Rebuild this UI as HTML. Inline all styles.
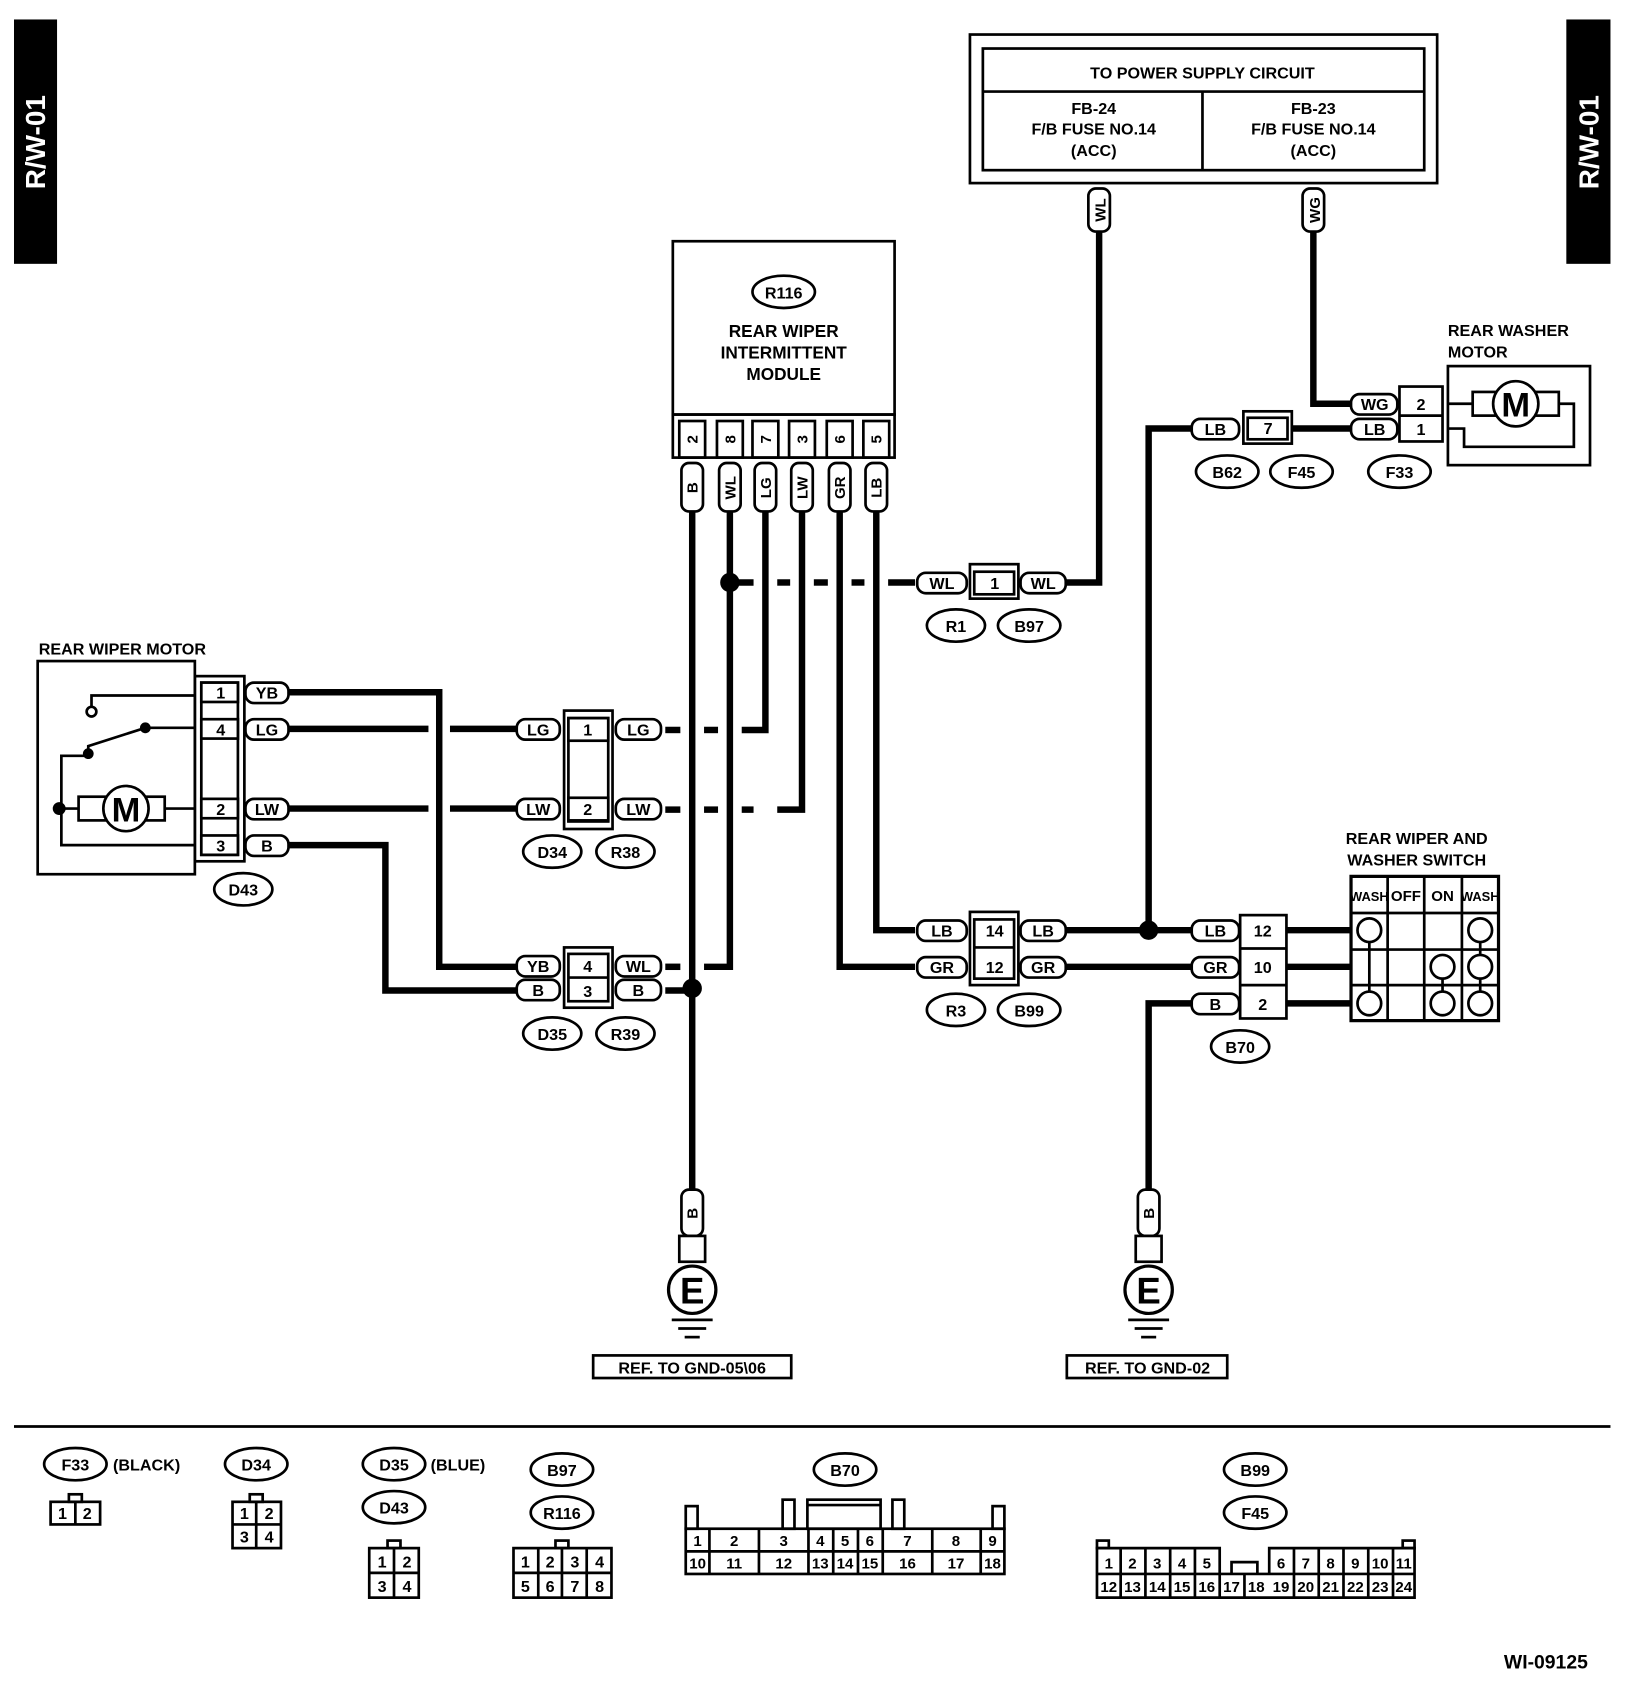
<!DOCTYPE html>
<html><head><meta charset="utf-8"><style>
html,body{margin:0;padding:0;background:#fff}
svg{display:block}
text{font-family:"Liberation Sans",Arial,sans-serif;font-weight:bold;fill:#000}
.t{font-size:15px;text-anchor:middle}
.w{stroke:#000;stroke-width:6;fill:none}
.l{stroke:#000;stroke-width:2.5;fill:none}
.b{stroke:#000;stroke-width:2.5;fill:#fff}
.c{font-size:14px;text-anchor:middle}
</style></head><body>
<svg width="1632" height="1686" viewBox="0 0 1516 1566" xmlns="http://www.w3.org/2000/svg">
<!-- side bars -->
<rect x="13" y="18" width="40" height="227" fill="#000"/>
<text transform="translate(42,132) rotate(-90)" style="font-size:26px;fill:#fff;text-anchor:middle">R/W-01</text>
<rect x="1455" y="18" width="41" height="227" fill="#000"/>
<text transform="translate(1485,132) rotate(-90)" style="font-size:26px;fill:#fff;text-anchor:middle">R/W-01</text>

<!-- power box -->
<rect x="901" y="32" width="434" height="138" class="l"/>
<rect x="913" y="45" width="410" height="113" class="l"/>
<line x1="913" y1="85" x2="1323" y2="85" class="l"/>
<line x1="1117" y1="85" x2="1117" y2="158" class="l"/>
<text x="1117" y="73" class="t">TO POWER SUPPLY CIRCUIT</text>
<text x="1016" y="106" class="t">FB-24</text><text x="1016" y="125" class="t">F/B FUSE NO.14</text><text x="1016" y="145" class="t">(ACC)</text>
<text x="1220" y="106" class="t">FB-23</text><text x="1220" y="125" class="t">F/B FUSE NO.14</text><text x="1220" y="145" class="t">(ACC)</text>

<!-- wires -->
<g class="w">
<path d="M1021 215 V541 H990"/>
<path d="M1220 215 V375 H1255"/>
<path d="M643 475 V1105"/>
<path d="M678 475 V898 H654"/><path d="M632 898 H618"/>
<path d="M711 475 V678 H689"/><path d="M667 678 H654"/><path d="M632 678 H618"/>
<path d="M745 475 V752 H722"/><path d="M700 752 H689"/><path d="M667 752 H654"/><path d="M632 752 H618"/>
<path d="M780 475 V898 H850"/>
<path d="M814 475 V864 H850"/>
<path d="M678 541 H700"/><path d="M722 541 H734"/><path d="M756 541 H769"/><path d="M791 541 H803"/><path d="M825 541 H850"/>
<path d="M268 643 H408 V898 H480"/>
<path d="M268 677 H398"/><path d="M418 677 H480"/>
<path d="M268 751 H398"/><path d="M418 751 H480"/>
<path d="M268 785 H358 V920 H480"/>
<path d="M618 920 H643"/>
<path d="M990 864 H1107"/><path d="M990 898 H1107"/>
<path d="M1067 864 V398 H1107"/>
<path d="M1200 398 H1255"/>
<path d="M1107 932 H1067 V1105"/>
<path d="M1195 864 H1255"/><path d="M1195 898 H1255"/><path d="M1195 932 H1255"/>
</g>
<circle cx="678" cy="541" r="9"/><circle cx="643" cy="918" r="9"/><circle cx="1067" cy="864" r="9"/>

<!-- vertical badges top -->
<rect x="1011" y="175" width="20" height="40" rx="7" class="b"/>
<text transform="translate(1027,195) rotate(-90)" class="c">WL</text>
<rect x="1210" y="175" width="20" height="40" rx="7" class="b"/>
<text transform="translate(1226,195) rotate(-90)" class="c">WG</text>

<!-- module -->
<rect x="625" y="224" width="206" height="161" class="l"/>
<ellipse cx="728" cy="271" rx="29" ry="15" class="l"/>
<text x="728" y="277" class="t">R116</text>
<text x="728" y="313" class="t" style="font-size:16px">REAR WIPER</text>
<text x="728" y="333" class="t" style="font-size:16px">INTERMITTENT</text>
<text x="728" y="353" class="t" style="font-size:16px">MODULE</text>
<rect x="625" y="385" width="206" height="40" class="l"/>
<g class="l">
<rect x="631" y="391" width="24" height="34"/><rect x="666" y="391" width="24" height="34"/><rect x="699" y="391" width="24" height="34"/>
<rect x="733" y="391" width="24" height="34"/><rect x="768" y="391" width="24" height="34"/><rect x="802" y="391" width="24" height="34"/>
</g>
<g class="c">
<text transform="translate(648,408) rotate(-90)" class="c">2</text>
<text transform="translate(683,408) rotate(-90)" class="c">8</text>
<text transform="translate(716,408) rotate(-90)" class="c">7</text>
<text transform="translate(750,408) rotate(-90)" class="c">3</text>
<text transform="translate(785,408) rotate(-90)" class="c">6</text>
<text transform="translate(819,408) rotate(-90)" class="c">5</text>
</g>
<g>
<rect x="633" y="430" width="20" height="45" rx="7" class="b"/><text transform="translate(648,453) rotate(-90)" class="c">B</text>
<rect x="668" y="430" width="20" height="45" rx="7" class="b"/><text transform="translate(683,453) rotate(-90)" class="c">WL</text>
<rect x="701" y="430" width="20" height="45" rx="7" class="b"/><text transform="translate(716,453) rotate(-90)" class="c">LG</text>
<rect x="735" y="430" width="20" height="45" rx="7" class="b"/><text transform="translate(750,453) rotate(-90)" class="c">LW</text>
<rect x="770" y="430" width="20" height="45" rx="7" class="b"/><text transform="translate(785,453) rotate(-90)" class="c">GR</text>
<rect x="804" y="430" width="20" height="45" rx="7" class="b"/><text transform="translate(819,453) rotate(-90)" class="c">LB</text>
</g>

<!-- rear wiper motor -->
<text x="36" y="608" style="font-size:15px">REAR WIPER MOTOR</text>
<rect x="35" y="614" width="146" height="198" class="l"/>
<path d="M181 646 H85 V658 M181 676 H135 L82 693 V702 H57 V785 H181 M57 751 H73 M153 751 H181" class="l"/>
<circle cx="85" cy="661" r="4.5" class="b"/>
<circle cx="135" cy="676" r="5"/><circle cx="82" cy="700" r="5"/><circle cx="55" cy="751" r="6"/>
<rect x="73" y="740" width="80" height="22" class="b"/>
<circle cx="117" cy="751" r="21" class="b"/>
<text x="117" y="763" style="font-size:32px;text-anchor:middle">M</text>
<rect x="181" y="628" width="46" height="172" class="l"/>
<rect x="187" y="634" width="34" height="160" class="l"/>
<g class="b"><rect x="187" y="634" width="34" height="18"/><rect x="187" y="668" width="34" height="18"/><rect x="187" y="742" width="34" height="18"/><rect x="187" y="776" width="34" height="18"/></g>
<text x="205" y="649" class="t">1</text><text x="205" y="683" class="t">4</text><text x="205" y="757" class="t">2</text><text x="205" y="791" class="t">3</text>
<g class="b"><rect x="228" y="634" width="40" height="19" rx="8"/><rect x="228" y="668" width="40" height="19" rx="8"/><rect x="228" y="742" width="40" height="19" rx="8"/><rect x="228" y="776" width="40" height="19" rx="8"/></g>
<text x="248" y="649" class="t">YB</text><text x="248" y="683" class="t">LG</text><text x="248" y="757" class="t">LW</text><text x="248" y="791" class="t">B</text>
<ellipse cx="226" cy="826" rx="27" ry="15" class="l"/><text x="226" y="832" class="t">D43</text>

<!-- D34/R38 -->
<rect x="524" y="660" width="45" height="110" class="l"/>
<rect x="528" y="667" width="37" height="96" class="l"/>
<rect x="528" y="667" width="37" height="21" class="b"/><rect x="528" y="741" width="37" height="21" class="b"/>
<text x="546" y="683" class="t">1</text><text x="546" y="757" class="t">2</text>
<g class="b"><rect x="480" y="668" width="40" height="19" rx="8"/><rect x="572" y="668" width="42" height="19" rx="8"/><rect x="480" y="742" width="40" height="19" rx="8"/><rect x="572" y="742" width="42" height="19" rx="8"/></g>
<text x="500" y="683" class="t">LG</text><text x="593" y="683" class="t">LG</text><text x="500" y="757" class="t">LW</text><text x="593" y="757" class="t">LW</text>
<ellipse cx="513" cy="791" rx="27" ry="15" class="l"/><text x="513" y="797" class="t">D34</text>
<ellipse cx="581" cy="791" rx="27" ry="15" class="l"/><text x="581" y="797" class="t">R38</text>

<!-- D35/R39 -->
<rect x="524" y="880" width="45" height="56" class="l"/>
<rect x="528" y="886" width="37" height="44" class="l"/>
<line x1="528" y1="908" x2="565" y2="908" class="l"/>
<text x="546" y="903" class="t">4</text><text x="546" y="926" class="t">3</text>
<g class="b"><rect x="480" y="888" width="40" height="19" rx="8"/><rect x="572" y="888" width="42" height="19" rx="8"/><rect x="480" y="910" width="40" height="19" rx="8"/><rect x="572" y="910" width="42" height="19" rx="8"/></g>
<text x="500" y="903" class="t">YB</text><text x="593" y="903" class="t">WL</text><text x="500" y="925" class="t">B</text><text x="593" y="925" class="t">B</text>
<ellipse cx="513" cy="960" rx="27" ry="15" class="l"/><text x="513" y="966" class="t">D35</text>
<ellipse cx="581" cy="960" rx="27" ry="15" class="l"/><text x="581" y="966" class="t">R39</text>

<!-- R1/B97 -->
<rect x="901" y="524" width="45" height="32" class="l"/>
<rect x="905" y="531" width="37" height="21" class="b"/><text x="924" y="547" class="t">1</text>
<g class="b"><rect x="852" y="532" width="46" height="19" rx="8"/><rect x="948" y="532" width="42" height="19" rx="8"/></g>
<text x="875" y="547" class="t">WL</text><text x="969" y="547" class="t">WL</text>
<ellipse cx="888" cy="581" rx="27" ry="15" class="l"/><text x="888" y="587" class="t">R1</text>
<ellipse cx="956" cy="581" rx="29" ry="15" class="l"/><text x="956" y="587" class="t">B97</text>

<!-- R3/B99 -->
<rect x="901" y="847" width="45" height="68" class="l"/>
<rect x="905" y="854" width="37" height="55" class="l"/>
<line x1="905" y1="880" x2="942" y2="880" class="l"/>
<text x="924" y="870" class="t">14</text><text x="924" y="904" class="t">12</text>
<g class="b"><rect x="852" y="855" width="46" height="19" rx="8"/><rect x="948" y="855" width="42" height="19" rx="8"/><rect x="852" y="889" width="46" height="19" rx="8"/><rect x="948" y="889" width="42" height="19" rx="8"/></g>
<text x="875" y="870" class="t">LB</text><text x="969" y="870" class="t">LB</text><text x="875" y="904" class="t">GR</text><text x="969" y="904" class="t">GR</text>
<ellipse cx="888" cy="938" rx="27" ry="15" class="l"/><text x="888" y="944" class="t">R3</text>
<ellipse cx="956" cy="938" rx="29" ry="15" class="l"/><text x="956" y="944" class="t">B99</text>

<!-- B70 -->
<rect x="1152" y="850" width="43" height="96" class="l"/>
<line x1="1152" y1="881" x2="1195" y2="881" class="l"/><line x1="1152" y1="915" x2="1195" y2="915" class="l"/>
<text x="1173" y="870" class="t">12</text><text x="1173" y="904" class="t">10</text><text x="1173" y="938" class="t">2</text>
<g class="b"><rect x="1107" y="855" width="44" height="19" rx="8"/><rect x="1107" y="889" width="44" height="19" rx="8"/><rect x="1107" y="923" width="44" height="19" rx="8"/></g>
<text x="1129" y="870" class="t">LB</text><text x="1129" y="904" class="t">GR</text><text x="1129" y="938" class="t">B</text>
<ellipse cx="1152" cy="972" rx="27" ry="15" class="l"/><text x="1152" y="978" class="t">B70</text>

<!-- switch -->
<text x="1316" y="784" class="t">REAR WIPER AND</text>
<text x="1316" y="804" class="t">WASHER SWITCH</text>
<rect x="1255" y="814" width="137" height="134" class="b" style="stroke-width:3"/>
<g class="l"><line x1="1289" y1="814" x2="1289" y2="948"/><line x1="1323" y1="814" x2="1323" y2="948"/><line x1="1358" y1="814" x2="1358" y2="948"/>
<line x1="1255" y1="848" x2="1392" y2="848"/><line x1="1255" y1="882" x2="1392" y2="882"/><line x1="1255" y1="915" x2="1392" y2="915"/>
<line x1="1272" y1="864" x2="1272" y2="932"/><line x1="1375" y1="864" x2="1375" y2="932"/><line x1="1340" y1="898" x2="1340" y2="932"/></g>
<g class="b"><circle cx="1272" cy="864" r="11"/><circle cx="1272" cy="932" r="11"/><circle cx="1375" cy="864" r="11"/><circle cx="1375" cy="898" r="11"/><circle cx="1375" cy="932" r="11"/><circle cx="1340" cy="898" r="11"/><circle cx="1340" cy="932" r="11"/></g>
<text x="1272" y="837" class="t" style="font-size:12px">WASH</text><text x="1306" y="837" class="t" style="font-size:14px">OFF</text>
<text x="1340" y="837" class="t" style="font-size:14px">ON</text><text x="1375" y="837" class="t" style="font-size:12px">WASH</text>

<!-- B62/F45 -->
<rect x="1155" y="382" width="45" height="30" class="l"/>
<rect x="1159" y="388" width="37" height="20" class="b"/><text x="1178" y="403" class="t">7</text>
<rect x="1107" y="389" width="44" height="19" rx="8" class="b"/><text x="1129" y="404" class="t">LB</text>
<ellipse cx="1140" cy="438" rx="29" ry="15" class="l"/><text x="1140" y="444" class="t">B62</text>
<ellipse cx="1209" cy="438" rx="29" ry="15" class="l"/><text x="1209" y="444" class="t">F45</text>

<!-- washer motor -->
<text x="1345" y="312" style="font-size:15px">REAR WASHER</text>
<text x="1345" y="332" style="font-size:15px">MOTOR</text>
<rect x="1345" y="340" width="132" height="92" class="l"/>
<path d="M1345 375 H1386 M1430 375 H1462 V415 H1360 V398 H1345" class="l"/>
<rect x="1368" y="364" width="80" height="22" class="b"/>
<circle cx="1408" cy="375" r="21" class="b"/>
<text x="1408" y="387" style="font-size:32px;text-anchor:middle">M</text>
<rect x="1300" y="359" width="40" height="51" class="l"/>
<line x1="1300" y1="386" x2="1340" y2="386" class="l"/>
<text x="1320" y="381" class="t">2</text><text x="1320" y="404" class="t">1</text>
<g class="b"><rect x="1255" y="366" width="43" height="19" rx="8"/><rect x="1255" y="389" width="43" height="19" rx="8"/></g>
<text x="1277" y="381" class="t">WG</text><text x="1277" y="404" class="t">LB</text>
<ellipse cx="1300" cy="438" rx="29" ry="15" class="l"/><text x="1300" y="444" class="t">F33</text>

<!-- grounds -->
<rect x="633" y="1105" width="20" height="43" rx="7" class="b"/><text transform="translate(648,1127) rotate(-90)" class="c">B</text>
<rect x="631" y="1148" width="24" height="24" class="b"/>
<circle cx="643" cy="1198" r="22" class="b" style="stroke-width:3"/>
<text x="643" y="1211" style="font-size:34px;text-anchor:middle">E</text>
<g class="l"><line x1="624" y1="1226" x2="662" y2="1226"/><line x1="630" y1="1234" x2="656" y2="1234"/><line x1="636" y1="1242" x2="650" y2="1242"/></g>
<rect x="551" y="1259" width="184" height="21" class="l"/><text x="643" y="1276" class="t">REF. TO GND-05\06</text>

<rect x="1057" y="1105" width="20" height="43" rx="7" class="b"/><text transform="translate(1072,1127) rotate(-90)" class="c">B</text>
<rect x="1055" y="1148" width="24" height="24" class="b"/>
<circle cx="1067" cy="1198" r="22" class="b" style="stroke-width:3"/>
<text x="1067" y="1211" style="font-size:34px;text-anchor:middle">E</text>
<g class="l"><line x1="1048" y1="1226" x2="1086" y2="1226"/><line x1="1054" y1="1234" x2="1080" y2="1234"/><line x1="1060" y1="1242" x2="1074" y2="1242"/></g>
<rect x="991" y="1259" width="149" height="21" class="l"/><text x="1066" y="1276" class="t">REF. TO GND-02</text>

<line x1="13" y1="1325" x2="1496" y2="1325" class="l"/>

<!-- legend -->
<ellipse cx="70" cy="1360" rx="29" ry="15" class="l"/><text x="70" y="1366" class="t">F33</text>
<text x="105" y="1366" style="font-size:15px">(BLACK)</text>
<rect x="64" y="1388" width="12" height="7" class="l"/>
<rect x="47" y="1395" width="46" height="21" class="l"/><line x1="70" y1="1395" x2="70" y2="1416" class="l"/>
<text x="58" y="1411" class="t">1</text><text x="81" y="1411" class="t">2</text>

<ellipse cx="238" cy="1360" rx="29" ry="15" class="l"/><text x="238" y="1366" class="t">D34</text>
<rect x="232" y="1388" width="12" height="7" class="l"/>
<rect x="216" y="1395" width="45" height="43" class="l"/><line x1="238" y1="1395" x2="238" y2="1438" class="l"/><line x1="216" y1="1416" x2="261" y2="1416" class="l"/>
<text x="227" y="1411" class="t">1</text><text x="250" y="1411" class="t">2</text><text x="227" y="1433" class="t">3</text><text x="250" y="1433" class="t">4</text>

<ellipse cx="366" cy="1360" rx="29" ry="15" class="l"/><text x="366" y="1366" class="t">D35</text>
<text x="400" y="1366" style="font-size:15px">(BLUE)</text>
<ellipse cx="366" cy="1400" rx="29" ry="15" class="l"/><text x="366" y="1406" class="t">D43</text>
<rect x="360" y="1431" width="12" height="7" class="l"/>
<rect x="343" y="1438" width="46" height="46" class="l"/><line x1="366" y1="1438" x2="366" y2="1484" class="l"/><line x1="343" y1="1461" x2="389" y2="1461" class="l"/>
<text x="355" y="1456" class="t">1</text><text x="378" y="1456" class="t">2</text><text x="355" y="1479" class="t">3</text><text x="378" y="1479" class="t">4</text>

<ellipse cx="522" cy="1365" rx="29" ry="15" class="l"/><text x="522" y="1371" class="t">B97</text>
<ellipse cx="522" cy="1405" rx="29" ry="15" class="l"/><text x="522" y="1411" class="t">R116</text>
<rect x="516" y="1431" width="12" height="7" class="l"/>
<rect x="477" y="1438" width="91" height="46" class="l"/>
<g class="l"><line x1="500" y1="1438" x2="500" y2="1484"/><line x1="522" y1="1438" x2="522" y2="1484"/><line x1="545" y1="1438" x2="545" y2="1484"/><line x1="477" y1="1461" x2="568" y2="1461"/></g>
<text x="488" y="1456" class="t">1</text><text x="511" y="1456" class="t">2</text><text x="534" y="1456" class="t">3</text><text x="557" y="1456" class="t">4</text>
<text x="488" y="1479" class="t">5</text><text x="511" y="1479" class="t">6</text><text x="534" y="1479" class="t">7</text><text x="557" y="1479" class="t">8</text>

<ellipse cx="785" cy="1365" rx="29" ry="15" class="l"/><text x="785" y="1371" class="t">B70</text>
<g class="l">
<rect x="637" y="1399" width="11" height="21"/><rect x="727" y="1393" width="11" height="27"/><rect x="750" y="1393" width="68" height="27"/><line x1="750" y1="1398" x2="818" y2="1398"/>
<rect x="829" y="1393" width="11" height="27"/><rect x="922" y="1399" width="11" height="21"/>
<rect x="637" y="1420" width="296" height="42"/><line x1="637" y1="1441" x2="933" y2="1441"/>
<line x1="659" y1="1420" x2="659" y2="1462"/><line x1="705" y1="1420" x2="705" y2="1462"/><line x1="751" y1="1420" x2="751" y2="1462"/>
<line x1="774" y1="1420" x2="774" y2="1462"/><line x1="797" y1="1420" x2="797" y2="1462"/><line x1="820" y1="1420" x2="820" y2="1462"/>
<line x1="866" y1="1420" x2="866" y2="1462"/><line x1="911" y1="1420" x2="911" y2="1462"/>
</g>
<g class="c">
<text x="648" y="1436">1</text><text x="682" y="1436">2</text><text x="728" y="1436">3</text><text x="762" y="1436">4</text><text x="785" y="1436">5</text><text x="808" y="1436">6</text><text x="843" y="1436">7</text><text x="888" y="1436">8</text><text x="922" y="1436">9</text>
<text x="648" y="1457">10</text><text x="682" y="1457">11</text><text x="728" y="1457">12</text><text x="762" y="1457">13</text><text x="785" y="1457">14</text><text x="808" y="1457">15</text><text x="843" y="1457">16</text><text x="888" y="1457">17</text><text x="922" y="1457">18</text>
</g>

<ellipse cx="1166" cy="1365" rx="29" ry="15" class="l"/><text x="1166" y="1371" class="t">B99</text>
<ellipse cx="1166" cy="1405" rx="29" ry="15" class="l"/><text x="1166" y="1411" class="t">F45</text>
<g class="l">
<rect x="1019" y="1431" width="11" height="7"/><rect x="1303" y="1431" width="11" height="7"/>
<path d="M1133 1462 V1438 H1019 V1484 H1314 V1438 H1179 V1462"/>
<line x1="1019" y1="1462" x2="1314" y2="1462"/>
<path d="M1144 1462 V1451 H1168 V1462"/>
<line x1="1041" y1="1438" x2="1041" y2="1484"/><line x1="1064" y1="1438" x2="1064" y2="1484"/><line x1="1087" y1="1438" x2="1087" y2="1484"/><line x1="1110" y1="1438" x2="1110" y2="1484"/>
<line x1="1133" y1="1462" x2="1133" y2="1484"/><line x1="1156" y1="1462" x2="1156" y2="1484"/>
<line x1="1202" y1="1438" x2="1202" y2="1484"/><line x1="1225" y1="1438" x2="1225" y2="1484"/><line x1="1248" y1="1438" x2="1248" y2="1484"/><line x1="1271" y1="1438" x2="1271" y2="1484"/><line x1="1294" y1="1438" x2="1294" y2="1484"/>
</g>
<g class="c">
<text x="1030" y="1457">1</text><text x="1052" y="1457">2</text><text x="1075" y="1457">3</text><text x="1098" y="1457">4</text><text x="1121" y="1457">5</text>
<text x="1190" y="1457">6</text><text x="1213" y="1457">7</text><text x="1236" y="1457">8</text><text x="1259" y="1457">9</text><text x="1282" y="1457">10</text><text x="1304" y="1457">11</text>
<text x="1030" y="1479">12</text><text x="1052" y="1479">13</text><text x="1075" y="1479">14</text><text x="1098" y="1479">15</text><text x="1121" y="1479">16</text><text x="1144" y="1479">17</text><text x="1167" y="1479">18</text><text x="1190" y="1479">19</text><text x="1213" y="1479">20</text><text x="1236" y="1479">21</text><text x="1259" y="1479">22</text><text x="1282" y="1479">23</text><text x="1304" y="1479">24</text>
</g>

<text x="1475" y="1550" style="font-size:18px;text-anchor:end">WI-09125</text>
</svg>
</body></html>
